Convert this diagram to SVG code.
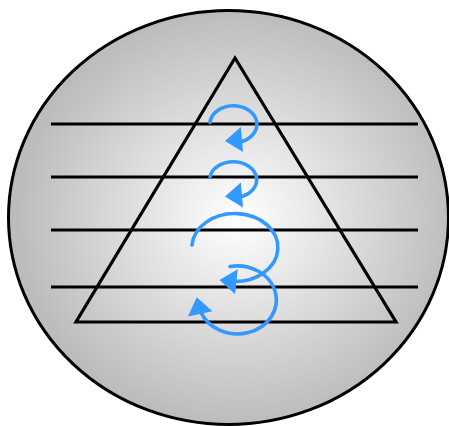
<svg xmlns="http://www.w3.org/2000/svg" xmlns:xlink="http://www.w3.org/1999/xlink" width="449" height="426" viewBox="0 0 449 426">
  <style>
    .blk { fill: none; stroke: #000; stroke-width: 3.2; }
    .curl { fill: none; stroke: #3399ff; stroke-width: 3.6; stroke-linecap: round; }
    .head { fill: #3399ff; stroke: none; }
  </style>
  <defs>
    <radialGradient id="bg" cx="52%" cy="50%" r="50%">
      <stop offset="0" stop-color="#ffffff"/>
      <stop offset="1" stop-color="#bcbcbc"/>
    </radialGradient>
    <path id="ah" d="M0,0 L17,-12.5 L17,12.5 Z"/>
  </defs>
  <g id="sphere">
    <ellipse cx="228.5" cy="217.5" rx="220" ry="207" fill="url(#bg)" stroke="#000" stroke-width="3"/>
  </g>
  <g id="pyramid">
    <path class="blk" d="M235,58 L396,322 L76,322 Z"/>
  </g>
  <g id="levels">
    <line class="blk" x1="51" y1="124" x2="418" y2="124"/>
    <line class="blk" x1="51" y1="177" x2="418" y2="177"/>
    <line class="blk" x1="51" y1="230" x2="418" y2="230"/>
    <line class="blk" x1="51" y1="287" x2="418" y2="287"/>
  </g>
  <g id="connectors">
    <path class="curl" d="M210,122.5 A23.5,18.5 0 1 1 240,142"/>
    <use xlink:href="#ah" class="head" transform="translate(225,141) rotate(-5)"/>
    <path class="curl" d="M210,177 A23.5,18 0 1 1 240,197"/>
    <use xlink:href="#ah" class="head" transform="translate(225,196.5) rotate(-5)"/>
    <path class="curl" d="M192,245 A43,34 0 1 1 233,281.5"/>
    <use xlink:href="#ah" class="head" transform="translate(219.5,280) rotate(6)"/>
    <path class="curl" d="M230,266.5 A39,34 0 1 1 200.5,311"/>
    <use xlink:href="#ah" class="head" transform="translate(196.7,297.3) rotate(78)"/>
  </g>
</svg>
